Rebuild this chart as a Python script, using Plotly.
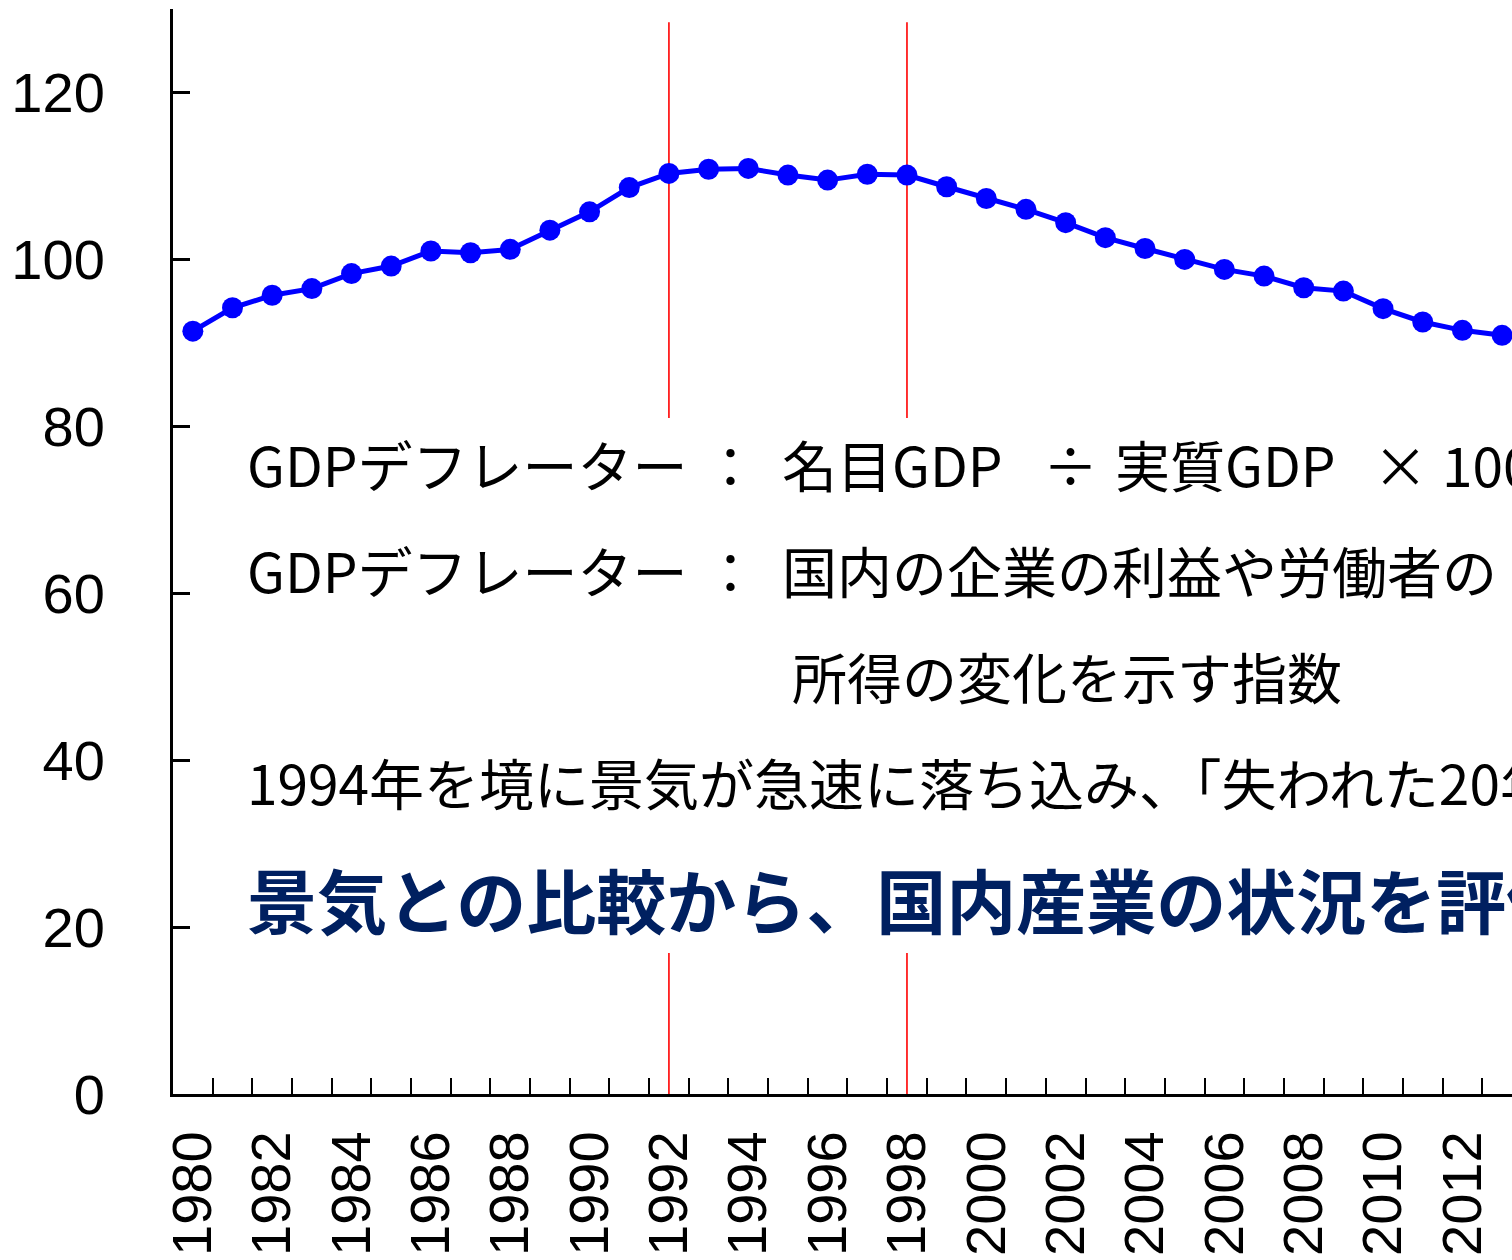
import plotly.graph_objects as go

years = list(range(1980, 2014))
deflator = [91.4, 94.2, 95.7, 96.5, 98.3, 99.2, 101.0, 100.8, 101.2, 103.5,
            105.7, 108.6, 110.3, 110.8, 110.9, 110.1, 109.5, 110.2, 110.1, 108.7,
            107.3, 106.0, 104.4, 102.6, 101.3, 100.0, 98.8, 98.0, 96.6, 96.2,
            94.1, 92.5, 91.5, 90.9]
marker_years = [1992, 1998]
y_ticks = [0, 20, 40, 60, 80, 100, 120]
x_label_years = list(range(1980, 2016, 2))

W, H = 1512, 1260
ML, MR, MT, MB = 173, 0, 8.5, 166
PW, PH = W - ML - MR, H - MT - MB

def px(x):
    return (x - ML) / PW

def py(y):
    return (H - MB - y) / PH

fig = go.Figure()
fig.add_trace(go.Scatter(
    x=years, y=deflator, mode="lines+markers",
    line=dict(color="#0000FF", width=5),
    marker=dict(color="#0000FF", size=21),
    cliponaxis=False, showlegend=False,
))

shapes = []
for yr in marker_years:
    for y0, y1 in [(81.0, 128.4), (0, 16.9)]:
        shapes.append(dict(type="line", xref="x", yref="y", x0=yr, x1=yr, y0=y0, y1=y1,
                           line=dict(color="#FF0000", width=1.6), layer="below"))

TXT = "Noto Sans CJK JP, sans-serif"
NAVY = "#002060"
annots = []
def add(text, x, y, anchor="left", size=55, color="black", family=TXT):
    annots.append(dict(text=text, xref="paper", yref="paper", x=px(x), y=py(y),
                       xanchor=anchor, yanchor="middle", showarrow=False,
                       font=dict(family=family, size=size, color=color)))

add("GDPデフレーター", 245, 463)
add("：", 730, 463, anchor="center")
add("名目GDP", 780, 463)
add("÷", 1070, 463, anchor="center")
add("実質GDP", 1113, 463)
add("×", 1400, 463, anchor="center")
add("100", 1440, 463)
add("GDPデフレーター", 245, 569)
add("：", 730, 569, anchor="center")
add("国内の企業の利益や労働者の", 780, 569)
add("所得の変化を示す指数", 790, 675)
add("1994年を境に景気が急速に落ち込み、「失われた20年」へ", 245, 781)
add("<b>景気との比較から、国内産業の状況を評価</b>", 245, 898, size=70, color=NAVY)

fig.update_layout(
    width=W, height=H,
    margin=dict(l=ML, r=MR, t=MT, b=MB, pad=0, autoexpand=False),
    plot_bgcolor="white", paper_bgcolor="white",
    shapes=shapes, annotations=annots,
    xaxis=dict(range=[1979.5, 2013.25], tickmode="array", tickvals=x_label_years,
               ticktext=[str(v) for v in x_label_years], tickangle=-90,
               ticks="inside", ticklen=0, showgrid=False, zeroline=False,
               showline=True, linecolor="black", linewidth=3,
               ticklabelstandoff=12, automargin=False,
               tickfont=dict(family="Liberation Sans, Arial, sans-serif", size=56, color="black"),
               minor=dict(tick0=1979.5, dtick=1, ticks="inside", ticklen=16,
                          tickwidth=2, tickcolor="black", showgrid=False)),
    yaxis=dict(range=[0, 130], tickmode="array", tickvals=y_ticks,
               ticks="inside", ticklen=17, tickwidth=2.5, tickcolor="black",
               showgrid=False, zeroline=False, showline=True, linecolor="black",
               linewidth=3, ticklabelstandoff=54, automargin=False,
               tickfont=dict(family="Liberation Sans, Arial, sans-serif", size=56, color="black")),
)

fig.write_html("out.html", config={"displayModeBar": False},
               post_script="document.body.style.margin='0';document.body.style.overflow='hidden';")
